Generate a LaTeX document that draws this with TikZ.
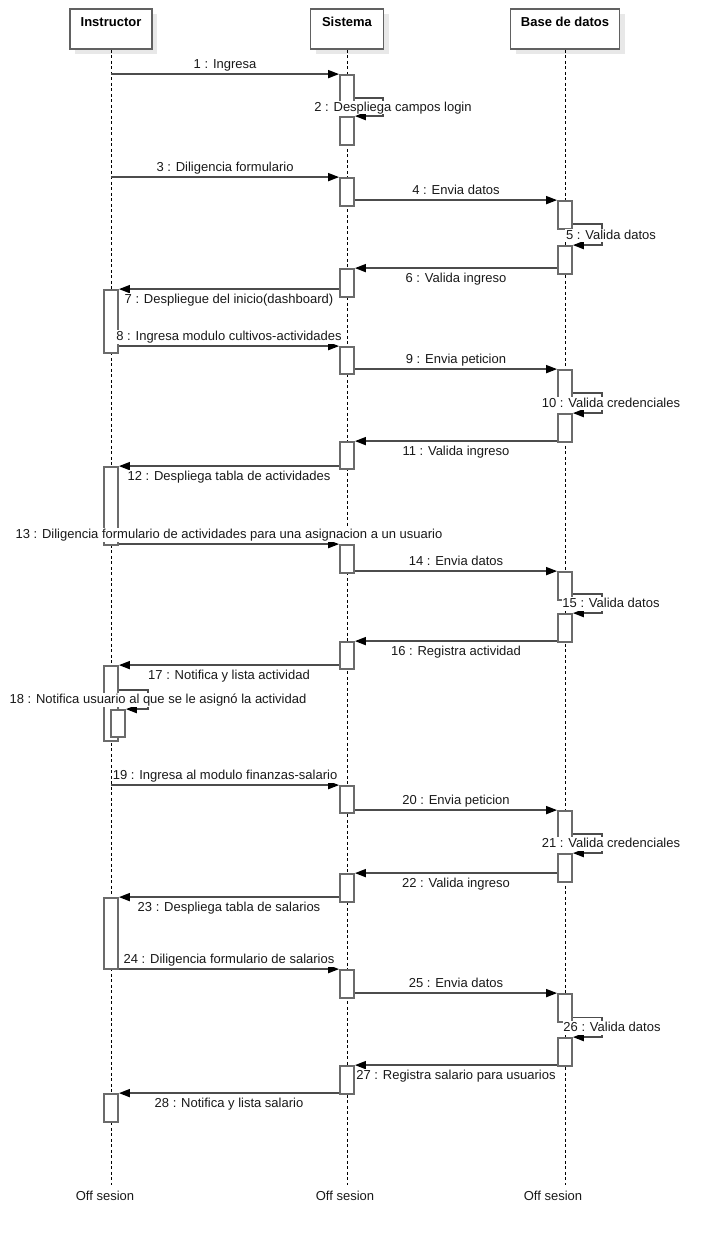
\documentclass[tikz,border=0pt]{standalone}
\usepackage{fontspec}
\setmainfont{Liberation Sans}
\usetikzlibrary{arrows.meta,shadows}
\newcommand\act[4]{\node[actbox, minimum height={#4-#3}] (#1) at (#2,{(#3+#4)/2}) {};}
\begin{document}
\begin{tikzpicture}[x=1pt,y=-1pt,
  head/.style={draw=black!62, line width=1.8pt, fill=white, font=\bfseries\fontsize{13}{15}\selectfont,
    minimum height=40pt, text height=16pt, text depth=21pt, inner ysep=1.5pt, inner xsep=0pt,
    general shadow={fill=black!9, shadow xshift=5pt, shadow yshift=-5pt}},
  life/.style={draw=black, line width=0.9pt, dash pattern=on 3pt off 2.5pt},
  actbox/.style={draw=black!58, line width=1.8pt, fill=white, minimum width=14pt, inner sep=0pt},
  msg/.style={draw=black!70, line width=1.6pt, -{Triangle[length=11pt,width=8pt,color=black]}},
  lbl/.style={font=\fontsize{13}{15}\selectfont, fill=white, inner sep=0.8pt, text height=9.5pt, text depth=2.5pt, text=black!90},
  above lbl/.style={lbl, midway, yshift=9pt},
  below lbl/.style={lbl, midway, yshift=-11pt},
  endlbl/.style={font=\fontsize{13}{15}\selectfont, inner sep=0pt, text=black!90}
]
\fill[white] (0,0) rectangle (720,1251);
\useasboundingbox (0,0) rectangle (720,1251);

% heads
\node[head, minimum width=82pt] (hI) at (111,29) {Instructor};
\node[head, minimum width=73pt] (hS) at (347,29) {Sistema};
\node[head, minimum width=109pt] (hB) at (565,29) {Base de datos};

% lifelines
\coordinate (eI) at (111,1185);
\coordinate (eS) at (347,1185);
\coordinate (eB) at (565,1185);
\draw[life] (hI.south) -- (eI);
\draw[life] (hS.south) -- (eS);
\draw[life] (hB.south) -- (eB);
\node[endlbl] (oI) at (105,1196) {Off sesion};
\node[endlbl] (oS) at (345,1196) {Off sesion};
\node[endlbl] (oB) at (553,1196) {Off sesion};

% activations
\act{S1}{347}{75}{103}
\act{S2}{347}{117}{145}
\act{S3}{347}{178}{206}
\act{B1}{565}{201}{229}
\act{B2}{565}{246}{274}
\act{S4}{347}{269}{297}
\act{I1}{111}{290}{353}
\act{S5}{347}{347}{374}
\act{B3}{565}{370}{398}
\act{B4}{565}{414}{442}
\act{S6}{347}{442}{469}
\act{I2}{111}{467}{545}
\act{S7}{347}{545}{573}
\act{B5}{565}{572}{600}
\act{B6}{565}{614}{642}
\act{S8}{347}{642}{669}
\act{I3}{111}{666}{741}
\act{I3n}{118}{710}{737}
\act{S9}{347}{786}{813}
\act{B7}{565}{811}{839}
\act{B8}{565}{854}{882}
\act{S10}{347}{874}{902}
\act{I4}{111}{898}{969}
\act{S11}{347}{970}{998}
\act{B9}{565}{994}{1022}
\act{B10}{565}{1038}{1066}
\act{S12}{347}{1066}{1094}
\act{I5}{111}{1094}{1122}

% messages
\draw[msg] (hI.south |- S1.north) -- node[above lbl] {1 : Ingresa} (S1.north west);
\draw[msg] (S1.east |- 0,98) -| (383,107.5) node[lbl, xshift=10pt] {2 : Despliega campos login} |- (S2.north east);
\draw[msg] (hI.south |- S3.north) -- node[above lbl] {3 : Diligencia formulario} (S3.north west);
\draw[msg] (S3.east |- B1.north) -- node[above lbl] {4 : Envia datos} (B1.north west);
\draw[msg] (B1.east |- 0,224) -| (602,235.5) node[lbl, xshift=9pt] {5 : Valida datos} |- (B2.north east);
\draw[msg] (B2.west |- S4.north) -- node[below lbl] {6 : Valida ingreso} (S4.north east);
\draw[msg] (S4.west |- I1.north) -- node[below lbl] {7 : Despliegue del inicio(dashboard)} (I1.north east);
\draw[msg] (I1.east |- S5.north) -- node[above lbl] {8 : Ingresa modulo cultivos-actividades} (S5.north west);
\draw[msg] (S5.east |- B3.north) -- node[above lbl] {9 : Envia peticion} (B3.north west);
\draw[msg] (B3.east |- 0,393) -| (602,403.5) node[lbl, xshift=9pt] {10 : Valida credenciales} |- (B4.north east);
\draw[msg] (B4.west |- S6.north) -- node[below lbl] {11 : Valida ingreso} (S6.north east);
\draw[msg] (S6.west |- I2.north) -- node[below lbl] {12 : Despliega tabla de actividades} (I2.north east);
\draw[msg] (I2.east |- S7.north) -- node[above lbl] {13 : Diligencia formulario de actividades para una asignacion a un usuario} (S7.north west);
\draw[msg] (S7.east |- B5.north) -- node[above lbl] {14 : Envia datos} (B5.north west);
\draw[msg] (B5.east |- 0,594) -| (602,604) node[lbl, xshift=9pt] {15 : Valida datos} |- (B6.north east);
\draw[msg] (B6.west |- S8.north) -- node[below lbl] {16 : Registra actividad} (S8.north east);
\draw[msg] (S8.west |- I3.north) -- node[below lbl] {17 : Notifica y lista actividad} (I3.north east);
\draw[msg] (I3.east |- 0,690) -| (148,700) node[lbl, xshift=10pt] {18 : Notifica usuario al que se le asignó la actividad} |- (I3n.north east);
\draw[msg] (hI.south |- S9.north) -- node[above lbl] {19 : Ingresa al modulo finanzas-salario} (S9.north west);
\draw[msg] (S9.east |- B7.north) -- node[above lbl] {20 : Envia peticion} (B7.north west);
\draw[msg] (B7.east |- 0,834) -| (602,844) node[lbl, xshift=9pt] {21 : Valida credenciales} |- (B8.north east);
\draw[msg] (B8.west |- S10.north) -- node[below lbl] {22 : Valida ingreso} (S10.north east);
\draw[msg] (S10.west |- I4.north) -- node[below lbl] {23 : Despliega tabla de salarios} (I4.north east);
\draw[msg] (I4.east |- S11.north) -- node[above lbl] {24 : Diligencia formulario de salarios} (S11.north west);
\draw[msg] (S11.east |- B9.north) -- node[above lbl] {25 : Envia datos} (B9.north west);
\draw[msg] (B9.east |- 0,1017.5) -| (602,1028) node[lbl, xshift=10pt] {26 : Valida datos} |- (B10.north east);
\draw[msg] (B10.west |- S12.north) -- node[below lbl] {27 : Registra salario para usuarios} (S12.north east);
\draw[msg] (S12.west |- I5.north) -- node[below lbl] {28 : Notifica y lista salario} (I5.north east);
\end{tikzpicture}
\end{document}
